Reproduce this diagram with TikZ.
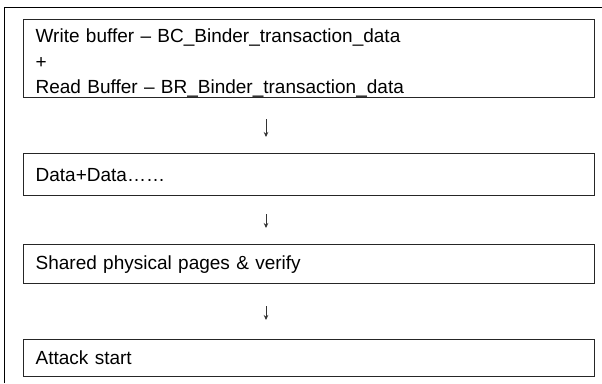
\documentclass[tikz,border=0pt]{standalone}
\usepackage{fontspec}
\setmainfont{Liberation Sans}
\newfontfamily\wideboxfont[WordSpace=2.2]{Liberation Sans}
\usetikzlibrary{arrows.meta}
\newcommand{\myboxfont}{\wideboxfont\fontsize{19}{25.5}\selectfont}
\begin{document}
\begin{tikzpicture}[x=1pt,y=-1pt,
  box/.style={draw=black!85, line width=1.3pt, anchor=north west, minimum width=571pt,
    inner xsep=12pt, inner ysep=0pt, text width=547pt, align=left,
    font=\myboxfont},
  arr/.style={-{Stealth[length=5pt,width=4.5pt]}, line width=0.7pt, draw=black!80}]
\useasboundingbox (0,0) rectangle (602,383);
\draw[line width=1pt] (4,383) -- (4,7) -- (602,7);
\node[box, minimum height=78pt] (b1) at (23,19) {\rule{0pt}{23pt}Write buffer – BC\_Binder\_transaction\_data\\+\\Read Buffer – BR\_Binder\_transaction\_data};
\node[box, minimum height=42pt] (b2) at (23,153) {Data+Data……};
\node[box, minimum height=39pt] (b3) at (23,244) {Shared physical pages \& verify};
\node[box, minimum height=37pt] (b4) at (23,339) {Attack start};
\coordinate (ax) at (266,0);
\draw[arr, shorten <=21pt, shorten >=16pt] (b1.south -| ax) -- (b2.north -| ax);
\draw[arr, shorten <=18pt, shorten >=16pt] (b2.south -| ax) -- (b3.north -| ax);
\draw[arr, shorten <=22pt, shorten >=19pt] (b3.south -| ax) -- (b4.north -| ax);
\end{tikzpicture}
\end{document}
